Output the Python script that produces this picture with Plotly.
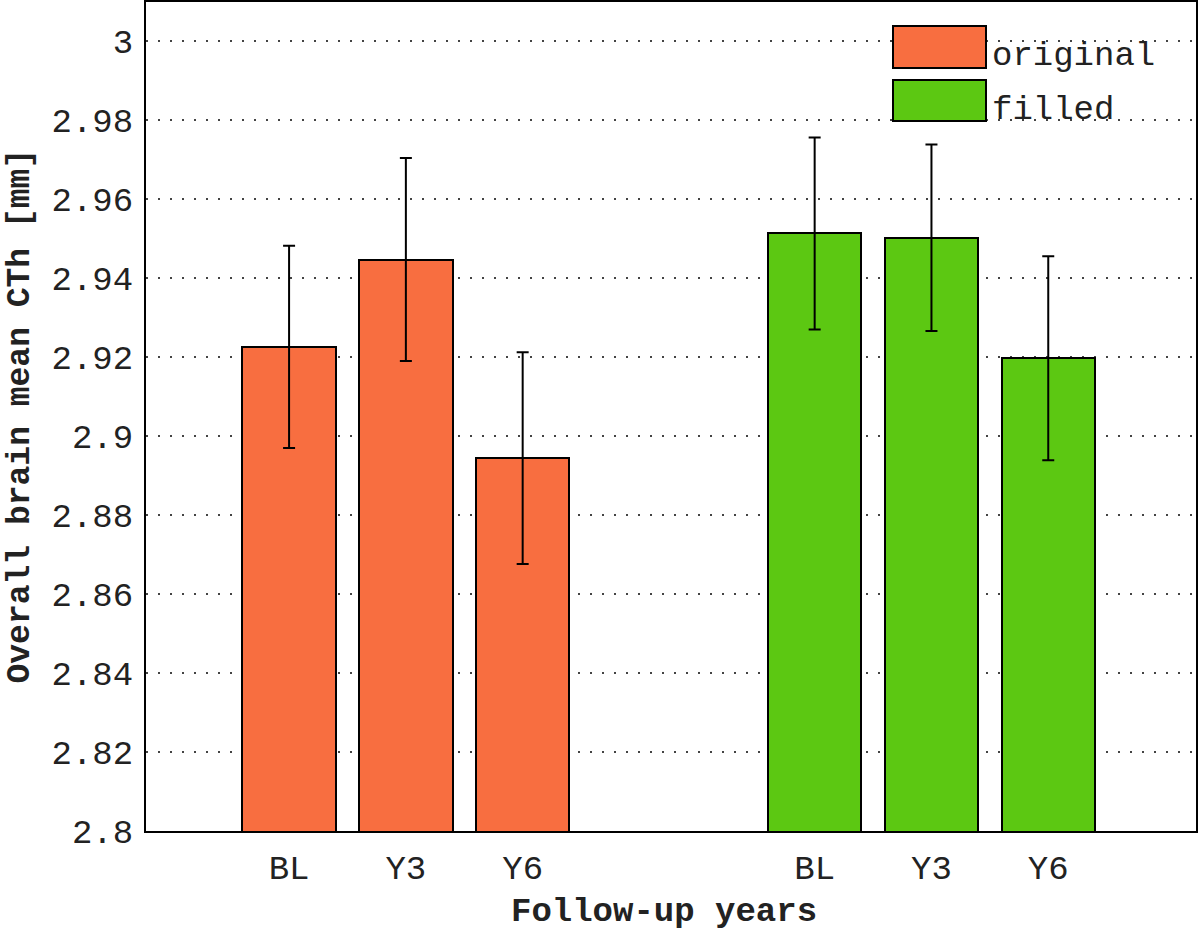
import plotly.graph_objects as go

# ---- data ----
timepoints = ["BL", "Y3", "Y6"]
groups = ["original", "filled"]
original_mean = [2.9226, 2.9447, 2.8944]
original_err = [0.0256, 0.0257, 0.0268]
filled_mean = [2.9513, 2.9502, 2.9197]
filled_err = [0.0243, 0.0236, 0.0258]
y_ticks = [2.8, 2.82, 2.84, 2.86, 2.88, 2.9, 2.92, 2.94, 2.96, 2.98, 3.0]
y_tick_labels = ["2.8", "2.82", "2.84", "2.86", "2.88", "2.9", "2.92", "2.94", "2.96", "2.98", "3"]

colors = {"original": "#F86E40", "filled": "#5CC812"}
GROUP_GAP = 4.5
FONT = "Liberation Mono, Courier New, monospace"
FS = 34

series = {"original": (original_mean, original_err), "filled": (filled_mean, filled_err)}

fig = go.Figure()
all_pos, all_lab = [], []
for gi, g in enumerate(groups):
    means, errs = series[g]
    pos = [1 + i + gi * GROUP_GAP for i in range(len(timepoints))]
    all_pos += pos
    all_lab += timepoints
    fig.add_trace(go.Bar(
        x=pos, y=means, name=g, width=0.8,
        marker=dict(color=colors[g], line=dict(color="black", width=2)),
        error_y=dict(type="data", array=errs, visible=True, color="black", thickness=2, width=6),
        showlegend=False,
    ))

fig.update_layout(
    width=1200, height=934,
    margin=dict(l=146, r=4, t=2, b=103, autoexpand=False),
    paper_bgcolor="white", plot_bgcolor="white",
    font=dict(family=FONT, size=FS, color="#222"),
    bargap=0,
)
fig.update_xaxes(
    range=[-0.225, 8.765], tickvals=all_pos, ticktext=all_lab, automargin=False,
    showgrid=False, zeroline=False, showline=True, linecolor="black", linewidth=2, mirror=True,
    ticks="", ticklabelstandoff=5, tickfont=dict(family=FONT, size=FS, color="#222"),
)
fig.update_yaxes(
    range=[2.8, 3.0099], tickvals=y_ticks, ticktext=y_tick_labels, automargin=False,
    showgrid=True, gridcolor="#444", gridwidth=2, griddash="2px,10px",
    zeroline=False, showline=True, linecolor="black", linewidth=2, mirror=True,
    ticks="", ticklabelstandoff=4, tickfont=dict(family=FONT, size=FS, color="#222"),
)

# axis titles
fig.add_annotation(text="<b>Follow-up years</b>", xref="paper", yref="paper",
                   x=0.493, y=-0.0977, xanchor="center", yanchor="middle", showarrow=False,
                   font=dict(family=FONT, size=FS, color="#222"))
fig.add_annotation(text="<b>Overall brain mean CTh [mm]</b>", xref="paper", yref="paper",
                   x=(20 - 146) / 1050, y=0.5, xanchor="center", yanchor="middle", textangle=-90,
                   showarrow=False, font=dict(family=FONT, size=33, color="#222"))

# legend drawn manually (large swatches)
leg_boxes = [(26, 68, 56), (80, 121, 110)]
for g, (top, bot, mid) in zip(groups, leg_boxes):
    fig.add_shape(type="rect", xref="paper", yref="paper",
                  x0=(893 - 146) / 1050, x1=(986 - 146) / 1050,
                  y0=(831 - bot) / 829, y1=(831 - top) / 829,
                  fillcolor=colors[g], line=dict(color="black", width=2))
    fig.add_annotation(text=g, xref="paper", yref="paper",
                       x=(990 - 146) / 1050, y=(831 - mid) / 829,
                       xanchor="left", yanchor="middle", showarrow=False,
                       font=dict(family=FONT, size=FS, color="#222"))

fig.write_html("out.html", config={"displayModeBar": False},
               post_script="document.body.style.margin='0';document.body.style.overflow='hidden';")
